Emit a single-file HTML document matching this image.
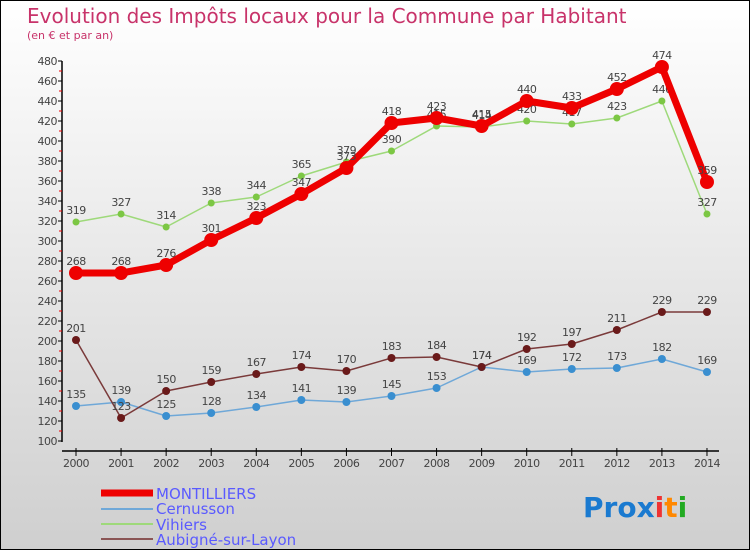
<!DOCTYPE html>
<html><head><meta charset="utf-8"><style>
body{margin:0}
#c{width:748px;height:548px;border:1px solid #000;background:linear-gradient(#fff,#cfcfcf);position:relative;font-family:"DejaVu Sans","Liberation Sans",sans-serif;overflow:hidden}
svg{position:absolute;left:0;top:0}
</style></head><body>
<div id="c">
<svg id="s" width="750" height="550">
<text x="26" y="22" font-size="20" fill="#c8336a">Evolution des Impôts locaux pour la Commune par Habitant</text>
<text x="26" y="38" font-size="11" fill="#c8336a">(en € et par an)</text>
<g id="axes"></g><g id="series"></g>
<g>
<line x1="100" y1="492" x2="152" y2="492" stroke="#e00" stroke-width="7"/>
<text x="155" y="498" font-size="15" fill="#5a5aff">MONTILLIERS</text>
<line x1="100" y1="508" x2="152" y2="508" stroke="#6fa8d8" stroke-width="2"/>
<text x="155" y="513" font-size="15" fill="#5a5aff">Cernusson</text>
<line x1="100" y1="523" x2="152" y2="523" stroke="#9ed97a" stroke-width="2"/>
<text x="155" y="529" font-size="15" fill="#5a5aff">Vihiers</text>
<line x1="100" y1="538" x2="152" y2="538" stroke="#8a5555" stroke-width="2"/>
<text x="155" y="544" font-size="15" fill="#5a5aff">Aubigné-sur-Layon</text>
</g>
<text x="582" y="516" font-size="28" font-weight="bold"><tspan fill="#1a7ad0">Pro</tspan><tspan fill="#1a7ad0">x</tspan><tspan fill="#e33">i</tspan><tspan fill="#f80">t</tspan><tspan fill="#2a2">i</tspan></text>
</svg></div>
<script>
const years=[2000,2001,2002,2003,2004,2005,2006,2007,2008,2009,2010,2011,2012,2013,2014];
const montilliers=[268,268,276,301,323,347,373,418,423,415,440,433,452,474,359];
const cernusson=[135,139,125,128,134,141,139,145,153,174,169,172,173,182,169];
const vihiers=[319,327,314,338,344,365,379,390,415,414,420,417,423,440,327];
const aubigne=[201,123,150,159,167,174,170,183,184,174,192,197,211,229,229];
const yTicks=[100,120,140,160,180,200,220,240,260,280,300,320,340,360,380,400,420,440,460,480];
const NS="http://www.w3.org/2000/svg";
const xs=i=>75+i*45.07, ys=v=>540-v;
function mk(t,a,p){const e=document.createElementNS(NS,t);for(const k in a)e.setAttribute(k,a[k]);p.appendChild(e);return e;}
const ax=document.getElementById('axes'), sg=document.getElementById('series');
let l=mk('line',{x1:61,y1:60,x2:61,y2:441,stroke:'#000','stroke-width':1.5},ax);


l=mk('line',{x1:61,y1:450,x2:718,y2:450,stroke:'#000','stroke-width':1.5},ax);


yTicks.forEach(v=>{mk('line',{x1:57,y1:ys(v),x2:61,y2:ys(v),stroke:'#000'},ax);
 if(v<480)mk('line',{x1:58,y1:ys(v+10),x2:61,y2:ys(v+10),stroke:'#e00'},ax);
 const t=mk('text',{x:56,y:ys(v)+4,'font-size':11,fill:'#444','text-anchor':'end','letter-spacing':'-0.5'},ax);t.textContent=v;
 
 });
years.forEach((y,i)=>{mk('line',{x1:xs(i),y1:447,x2:xs(i),y2:455,stroke:'#000'},ax);
 const t=mk('text',{x:xs(i),y:466,'font-size':11,fill:'#444','text-anchor':'middle','letter-spacing':'-0.5'},ax);t.textContent=y;
 
 });
function series(d,col,w,r,name,dot){
 const g=mk('g',{},sg);
 
 
 mk('polyline',{points:d.map((v,i)=>xs(i)+','+ys(v)).join(' '),fill:'none',stroke:col,'stroke-width':w,'stroke-linejoin':'round'},g);
 d.forEach((v,i)=>{const c=mk('circle',{cx:xs(i),cy:ys(v),r:r,fill:dot||col},g);
  
  
  const t=mk('text',{x:xs(i),y:ys(v)-8,'font-size':11,fill:'#444','text-anchor':'middle','letter-spacing':'-0.5'},g);t.textContent=v;
  
  });
}
series(vihiers,'#9ed97a',1.5,3.5,'series-vihiers','#7cc744');
series(cernusson,'#6fa8d8',1.5,4,'series-cernusson','#3a8fd0');
series(aubigne,'#7a3a3a',1.5,4,'series-aubigne','#6a1a1a');
series(montilliers,'#e00',7,7,'series-montilliers');
</script>
</body></html>
